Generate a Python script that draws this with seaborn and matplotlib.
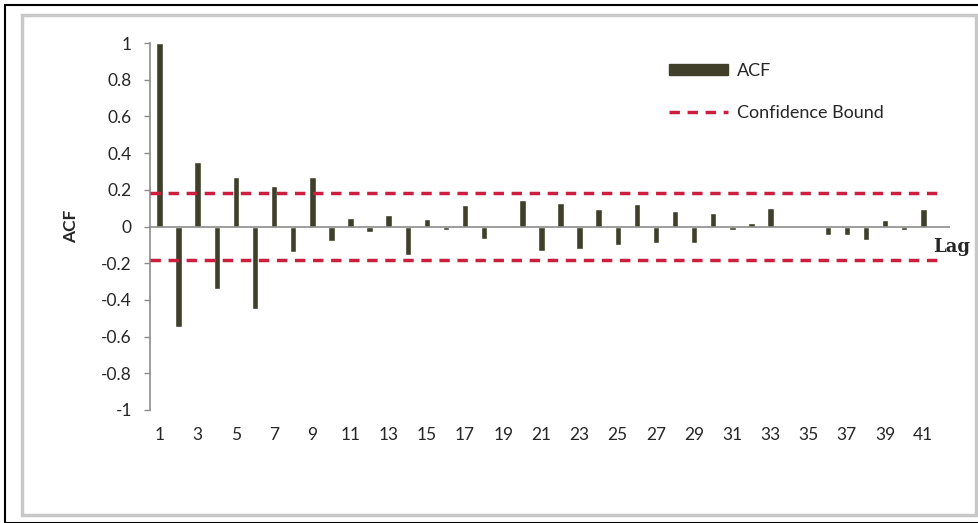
import matplotlib
matplotlib.use("Agg")
import matplotlib.pyplot as plt
import seaborn as sns
import pandas as pd
from matplotlib.patches import Rectangle, Patch
from matplotlib.lines import Line2D

# --- данные ---
lags = list(range(1, 42))
acf_values = [1.00, -0.55, 0.35, -0.34, 0.27, -0.45, 0.22, -0.14, 0.27, -0.08,
              0.045, -0.03, 0.063, -0.154, 0.04, -0.02, 0.118, -0.07, 0.0, 0.145,
              -0.136, 0.13, -0.12, 0.094, -0.10, 0.121, -0.092, 0.082, -0.092, 0.072,
              -0.018, 0.018, 0.103, 0.0, 0.0, -0.047, -0.047, -0.072, 0.036, -0.018,
              0.094]
conf_bound = 0.18
y_ticks = [-1, -0.8, -0.6, -0.4, -0.2, 0, 0.2, 0.4, 0.6, 0.8, 1]

df = pd.DataFrame({"Lag": [str(l) for l in lags], "ACF": acf_values})

sns.set_theme(style="white")
plt.rcParams['font.family'] = ['Lato', 'DejaVu Sans']

bar_color = "#3f3f2a"
red = "#cc1f3f"
txt = "#262626"

fig = plt.figure(figsize=(9.79, 5.23), dpi=100)
ax = fig.add_axes([150 / 979, 1 - 410 / 523, 800 / 979, 367 / 523])

sns.barplot(data=df, x="Lag", y="ACF", color=bar_color, width=0.34,
            saturation=1, ax=ax, order=df["Lag"])

ax.set_xlim(-0.5, 41.4)
ax.set_ylim(-1, 1)

# нулевая линия и доверительные границы
ax.axhline(0, color="#8c8c8c", lw=1.2, zorder=1)
ax.hlines([conf_bound, -conf_bound], -0.5, 40.7, colors=red, lw=2.5,
          linestyles=(0, (3, 2.2)), zorder=3)

# оси
for s in ["top", "right", "bottom"]:
    ax.spines[s].set_visible(False)
ax.spines["left"].set_color("#8c8c8c")
ax.spines["left"].set_linewidth(1.2)

ax.set_yticks(y_ticks)
ax.set_yticklabels([f"{t:g}" for t in y_ticks], fontsize=12.5, color=txt)
ax.tick_params(axis="y", left=True, length=4, width=1, color="#8c8c8c", pad=9)

ax.set_xticks(range(len(lags)))
ax.set_xticklabels([str(l) if l % 2 == 1 else "" for l in lags],
                   fontsize=12.5, color=txt)
ax.tick_params(axis="x", bottom=False, length=0, pad=12)

ax.set_xlabel("")
ax.set_ylabel("ACF", fontsize=12.5, fontweight="bold", color=txt, labelpad=16)
ax.text(40.5, -0.11, "Lag", fontsize=13, fontweight="bold", family="DejaVu Serif",
        ha="left", va="center", color=txt)

handles = [Patch(facecolor=bar_color, edgecolor=bar_color),
           Line2D([0], [0], color=red, lw=2.5, linestyle=(0, (3, 2.2)))]
ax.legend(handles, ["ACF", "Confidence Bound"], loc="upper left",
          bbox_to_anchor=(0.628, 0.99), frameon=False, fontsize=13,
          handlelength=3.3, handleheight=0.5, labelspacing=1.45,
          handletextpad=0.5, labelcolor=txt)

# рамки
fig.patches.append(Rectangle((5 / 979, 0), 1, 1 - 5 / 523, transform=fig.transFigure,
                             fill=False, edgecolor="black", lw=1.5))
fig.patches.append(Rectangle((22 / 979, 1 - 515 / 523), 954 / 979, 500 / 523,
                             transform=fig.transFigure, fill=False,
                             edgecolor="#c8c8c8", lw=2.5))

fig.savefig("out.png", dpi=100)
